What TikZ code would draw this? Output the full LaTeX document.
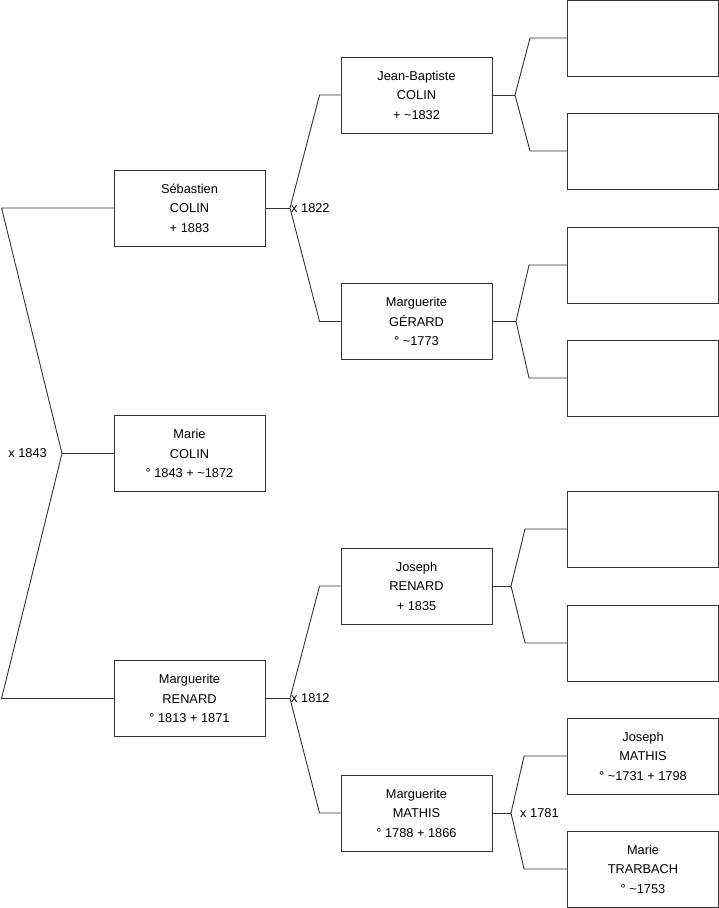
\documentclass[tikz,border=0pt]{standalone}
\usepackage{fontspec}
\setmainfont{Liberation Sans}
\begin{document}
\begin{tikzpicture}[x=1pt,y=-1pt,
  person/.style={draw=black!80, line width=0.9pt, minimum width=151pt, minimum height=76pt,
    inner sep=0pt, align=center, font=\fontsize{12.8}{19.5}\selectfont},
  link/.style={black!80, line width=0.9pt},
  wed/.style={font=\fontsize{12.8}{15}\selectfont, inner sep=1pt}]
  \useasboundingbox (0,0) rectangle (719,908);
  % Child and parents
  \node[person] (seb) at (189.5,208) {Sébastien\\COLIN\\+ 1883};
  \node[person] (marie) at (189.5,453.5) {Marie\\COLIN\\° 1843 + \textasciitilde1872};
  \node[person] (mren) at (189.5,698.5) {Marguerite\\RENARD\\° 1813 + 1871};
  % Grandparents
  \node[person] (jb) at (416.5,95) {Jean-Baptiste\\COLIN\\+ \textasciitilde1832};
  \node[person] (ger) at (416.5,321.5) {Marguerite\\GÉRARD\\° \textasciitilde1773};
  \node[person] (jos) at (416.5,586) {Joseph\\RENARD\\+ 1835};
  \node[person] (mat) at (416.5,813) {Marguerite\\MATHIS\\° 1788 + 1866};
  % Great-grandparents
  \foreach \n/\y in {t1/38,t2/151,t3/265,t4/378,t5/529,t6/643}
    \node[person] (\n) at (643,\y) {};
  \node[person] (jmat) at (643,756) {Joseph\\MATHIS\\° \textasciitilde1731 + 1798};
  \node[person] (mtra) at (643,869) {Marie\\TRARBACH\\° \textasciitilde1753};
  % Forks
  \coordinate (w1) at (62,453.5);
  \draw[link] (seb.west) -- ++(-112,0) -- (w1) -- ([xshift=-112pt]mren.west) -- (mren.west);
  \draw[link] (w1) -- (marie.west);
  \node[wed, anchor=east] at ([xshift=-14pt]w1) {x 1843};
  \coordinate (w2) at (290,208);
  \draw[link] (seb.east) -- (w2);
  \draw[link] (w2) -- ([xshift=-21pt]jb.west) -- (jb.west);
  \draw[link] (w2) -- ([xshift=-21pt]ger.west) -- (ger.west);
  \node[wed, anchor=west] at (w2) {x 1822};
  \coordinate (w3) at (290,698.5);
  \draw[link] (mren.east) -- (w3);
  \draw[link] (w3) -- ([xshift=-21pt]jos.west) -- (jos.west);
  \draw[link] (w3) -- ([xshift=-21pt]mat.west) -- (mat.west);
  \node[wed, anchor=west] at (w3) {x 1812};
  \coordinate (w4) at (515,95);
  \draw[link] (jb.east) -- (w4);
  \draw[link] (w4) -- ([xshift=-37pt]t1.west) -- (t1.west);
  \draw[link] (w4) -- ([xshift=-37pt]t2.west) -- (t2.west);
  \coordinate (w5) at (516,321.5);
  \draw[link] (ger.east) -- (w5);
  \draw[link] (w5) -- ([xshift=-38pt]t3.west) -- (t3.west);
  \draw[link] (w5) -- ([xshift=-38pt]t4.west) -- (t4.west);
  \coordinate (w6) at (511,586);
  \draw[link] (jos.east) -- (w6);
  \draw[link] (w6) -- ([xshift=-42pt]t5.west) -- (t5.west);
  \draw[link] (w6) -- ([xshift=-42pt]t6.west) -- (t6.west);
  \coordinate (w7) at (511,813);
  \draw[link] (mat.east) -- (w7);
  \draw[link] (w7) -- ([xshift=-43pt]jmat.west) -- (jmat.west);
  \draw[link] (w7) -- ([xshift=-43pt]mtra.west) -- (mtra.west);
  \node[wed, anchor=west] at ([xshift=8pt]w7) {x 1781};
\end{tikzpicture}
\end{document}
